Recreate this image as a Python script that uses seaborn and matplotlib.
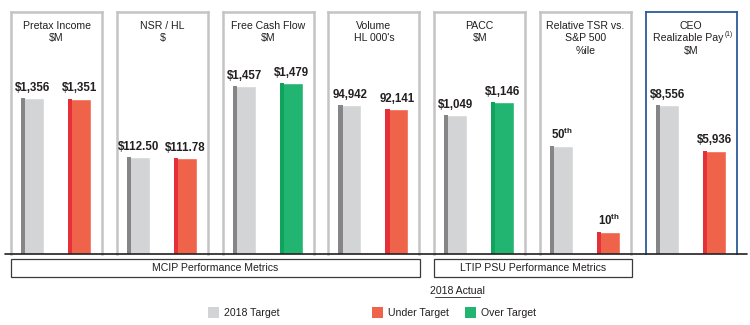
import matplotlib
matplotlib.use("Agg")
import matplotlib.pyplot as plt
import seaborn as sns
import pandas as pd
from matplotlib.patches import Rectangle
from matplotlib.lines import Line2D

sns.set_style("white")
plt.rcParams['font.family'] = ['Liberation Sans', 'DejaVu Sans']
plt.rcParams['mathtext.fontset'] = 'custom'
plt.rcParams['mathtext.rm'] = 'Liberation Sans'
plt.rcParams['mathtext.bf'] = 'Liberation Sans:bold'
plt.rcParams['mathtext.it'] = 'Liberation Sans:italic'

# ---- data ----
titles = [["Pretax Income", "$M"], ["NSR / HL", "$"], ["Free Cash Flow", "$M"],
          ["Volume", "HL 000's"], ["PACC", "$M"], ["Relative TSR vs.", "S&P 500", "%ile"],
          ["CEO", "Realizable Pay", "$M"]]
title_notes = {6: (1, "(1)")}
target_vals = [1356, 112.50, 1457, 94942, 1049, 50, 8556]
actual_vals = [1351, 111.78, 1479, 92141, 1146, 10, 5936]
target_labels = ["$1,356", "$112.50", "$1,457", "94,942", "$1,049", r"$\mathbf{50^{th}}$", "$8,556"]
actual_labels = ["$1,351", "$111.78", "$1,479", "92,141", "$1,146", r"$\mathbf{10^{th}}$", "$5,936"]
actual_status = ["Under", "Under", "Over", "Under", "Over", "Under", "Under"]
ymax = [2104, 281, 2099, 154200, 1826, 112, 13896]
categories = ["2018 Target", "2018 Actual"]
groups = ["MCIP Performance Metrics", "LTIP PSU Performance Metrics"]
legend_labels = ["2018 Target", "Under Target", "Over Target"]

GRAY, GRAY_D = "#d3d4d6", "#858587"
RED, RED_D = "#f0634b", "#e5303a"
GREEN, GREEN_D = "#22b471", "#0ea45c"
main_col = {"Target": GRAY, "Under": RED, "Over": GREEN}
dark_col = {"Target": GRAY_D, "Under": RED_D, "Over": GREEN_D}

W, H = 750, 325
fig = plt.figure(figsize=(7.5, 3.25), dpi=100)

base_y = 254
top_y = 12
pw = 91
bw = 0.489
strip = 0.09

for i in range(7):
    left = 11 + 105.8 * i
    ax = fig.add_axes([left / W, (H - base_y) / H, pw / W, (base_y - top_y) / H])
    df = pd.DataFrame({"cat": categories,
                       "val": [target_vals[i], actual_vals[i]],
                       "status": ["Target", actual_status[i]]})
    sns.barplot(data=df, x="cat", y="val", hue="status",
                palette={k: main_col[k] for k in df["status"]},
                width=bw, dodge=False, legend=False, ax=ax, saturation=1)
    for j, (v, s) in enumerate(zip(df["val"], df["status"])):
        ax.bar(j - bw / 2, v, width=strip, align="edge", color=dark_col[s], linewidth=0)
    ax.set_xlim(-0.457, 1.477)
    ax.set_ylim(0, ymax[i])
    ax.set_xlabel("")
    ax.set_ylabel("")
    ax.set_xticks([])
    ax.set_yticks([])
    edge = "#2b5b98" if i == 6 else "#c4c4c4"
    lw = 1.3 if i == 6 else 1.8
    for sp in ["left", "right", "top"]:
        ax.spines[sp].set_color(edge)
        ax.spines[sp].set_linewidth(lw)
    ax.spines["bottom"].set_visible(False)
    for k, line in enumerate(titles[i]):
        ypx = 25 + 12.3 * k
        has_note = i in title_notes and title_notes[i][0] == k
        xc = 0.47 if has_note else 0.5
        t = ax.text(xc, (base_y - ypx) / (base_y - top_y), line, transform=ax.transAxes,
                    ha="center", va="center_baseline", fontsize=7.6, color="#231f20")
        if has_note:
            ax.annotate(title_notes[i][1], xy=(1, 0.5), xycoords=t, xytext=(0.5, 0),
                        textcoords="offset points", ha="left", va="bottom",
                        fontsize=4.8, color="#231f20")
    for j, (v, lab) in enumerate(zip([target_vals[i], actual_vals[i]],
                                     [target_labels[i], actual_labels[i]])):
        ax.annotate(lab, (j, v), xytext=(0, 3), textcoords="offset points",
                    ha="center", va="bottom", fontsize=8.3, fontweight="bold", color="#231f20")

# baseline
fig.add_artist(Line2D([5 / W, 747 / W], [(H - base_y) / H] * 2, color="#231f20", lw=1.2))

# group boxes
for (x0, x1), g in zip([(11, 420), (434, 632)], groups):
    fig.add_artist(Rectangle((x0 / W, (H - 277) / H), (x1 - x0) / W, 18 / H,
                             fill=False, edgecolor="#3a3a3a", lw=0.9))
    fig.text((x0 + x1) / 2 / W, (H - 268) / H, g, ha="center", va="center",
             fontsize=7.6, color="#231f20")

fig.text(457 / W, (H - 291) / H, "2018 Actual", ha="center", va="center",
         fontsize=7.6, color="#231f20")
fig.add_artist(Line2D([435 / W, 480 / W], [(H - 296.5) / H] * 2, color="#231f20", lw=0.6))

for x, col, lab in zip([208, 372, 465], [GRAY, RED, GREEN], legend_labels):
    fig.add_artist(Rectangle((x / W, (H - 318) / H), 11 / W, 11 / H, color=col, lw=0))
    fig.text((x + 16) / W, (H - 312.5) / H, lab, ha="left", va="center",
             fontsize=7.6, color="#231f20")

fig.savefig("out.png", dpi=100)
